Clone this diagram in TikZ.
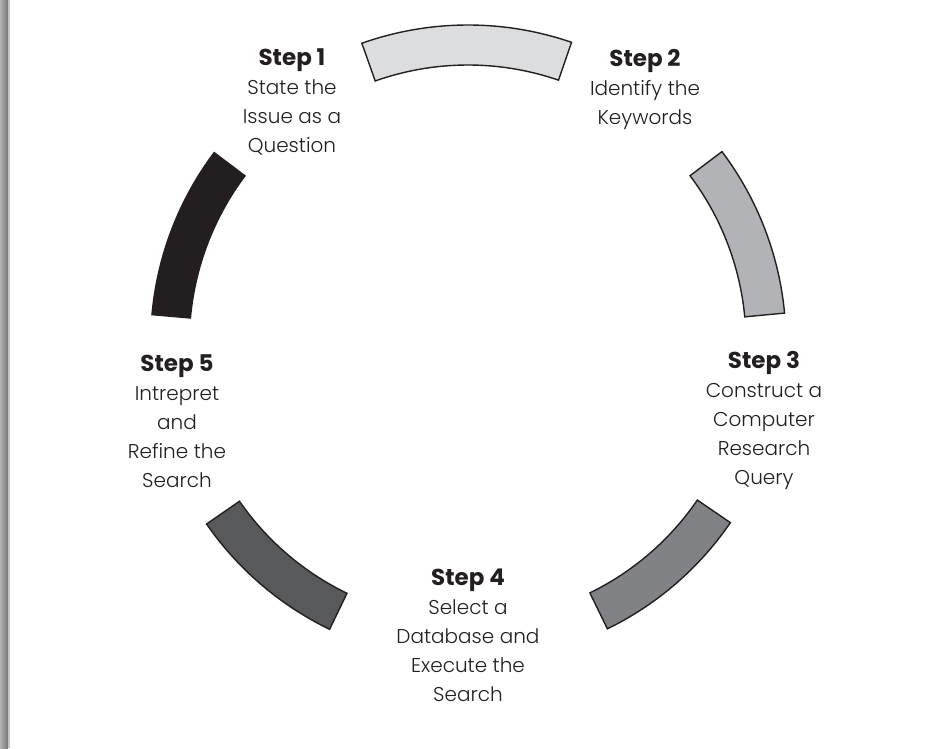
\documentclass[tikz,border=0pt]{standalone}
\usepackage{fontspec}
\setmainfont{Poppins}[UprightFont=* Light, BoldFont=* Bold]
\usepackage{xcolor}
\usepackage[]{tikz}
\usetikzlibrary{positioning}
\definecolor{ink}{HTML}{231F20}
\definecolor{tone1}{HTML}{DCDDDF}
\definecolor{tone2}{HTML}{B1B3B6}
\definecolor{tone3}{HTML}{808285}
\definecolor{tone4}{HTML}{58595B}
\tikzset{step node/.style={align=center,text=ink,inner sep=0pt,font=\fontsize{20}{29}\selectfont},
  ring part/.style={draw=ink,line width=1.4pt}}
\newcommand{\stephead}[1]{{\bfseries\fontsize{23}{29}\selectfont Step #1}}

\begin{document}
\begin{tikzpicture}[x=1pt, y=1pt, on grid]
      \useasboundingbox (-468,-405) rectangle (471,343);
      \shade[left color=black!30, right color=black!55] (-468,-405) rectangle (-460,343);
      \fill[black!22] (-460,-405) rectangle (-458,343);
      \coordinate (c) at (0,0);
      % ring parts
      \filldraw[ring part, fill=tone1] (71:278pt) arc[start angle=71, end angle=109.5, radius=278pt] -- (109.5:318pt) arc[start angle=109.5, end angle=71, radius=318pt] -- cycle;
      \filldraw[ring part, fill=tone2] (5.4:278pt) arc[start angle=5.4, end angle=37, radius=278pt] -- (37:318pt) arc[start angle=37, end angle=5.4, radius=318pt] -- cycle;
      \filldraw[ring part, fill=tone3] (-64:278pt) arc[start angle=-64, end angle=-34.4, radius=278pt] -- (-34.4:318pt) arc[start angle=-34.4, end angle=-64, radius=318pt] -- cycle;
      \filldraw[ring part, fill=tone4] (214.7:278pt) arc[start angle=214.7, end angle=244.2, radius=278pt] -- (244.2:318pt) arc[start angle=244.2, end angle=214.7, radius=318pt] -- cycle;
      \fill[ink] (143:278pt) arc[start angle=143, end angle=175, radius=278pt] -- (175:318pt) arc[start angle=175, end angle=143, radius=318pt] -- cycle;
      % labels
      \node[step node] (s1) [on grid, above left = 241.5pt and 176pt of c, anchor=center] {\stephead{1}\\State the\\Issue as a\\Question};
      \node[step node] (s2) [on grid, above right = 254pt and 177pt of c, anchor=center] {\stephead{2}\\Identify the\\Keywords};
      \node[step node] (s3) [on grid, below right = 77.5pt and 296pt of c, anchor=center] {\stephead{3}\\Construct a\\Computer\\Research\\Query};
      \node[step node] (s4) [on grid, below = 292pt of c, anchor=center] {\stephead{4}\\Select a\\Database and\\Execute the\\Search};
      \node[step node] (s5) [on grid, below left = 78pt and 291pt of c, anchor=center] {\stephead{5}\\Intrepret\\and\\Refine the\\Search};
    \end{tikzpicture}
\end{document}
